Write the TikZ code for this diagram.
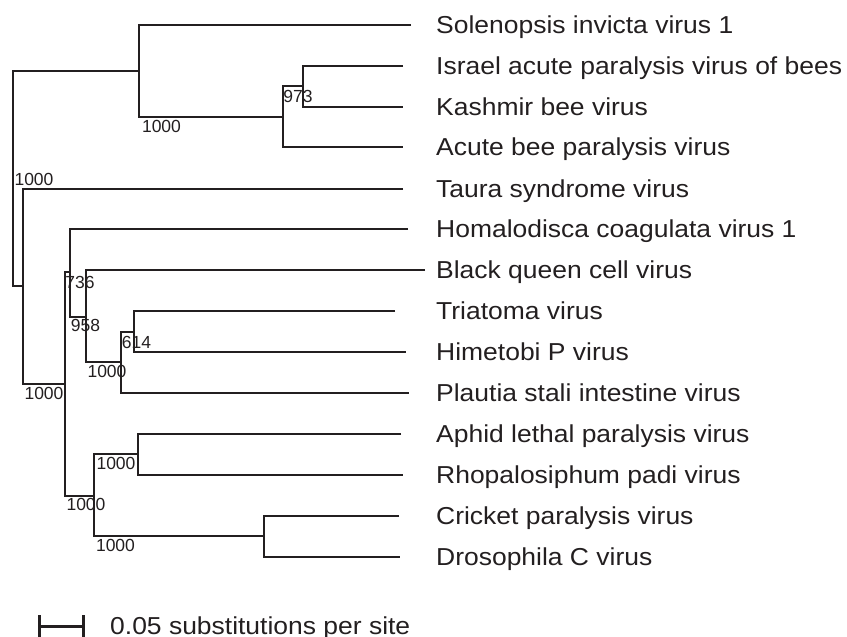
\documentclass[tikz,border=0pt]{standalone}
\usepackage{fontspec}
\setmainfont{Liberation Sans}
\newfontfamily\widefont[FakeStretch=1.08]{Liberation Sans}
\definecolor{ink}{HTML}{231F20}
\begin{document}
\begin{tikzpicture}[x=1pt,y=-1pt,
  branch/.style={draw=ink,line width=1.4pt},
  leaf/.style={anchor=base west,inner sep=0pt,text=ink,font=\widefont\fontsize{24.5}{28}\selectfont},
  boot/.style={inner sep=0pt,text=ink,font=\fontsize{17.5}{20}\selectfont},
  scalebar/.style={draw=ink,line width=3pt}]
\useasboundingbox (0,0) rectangle (847,637);
% tips
\coordinate (tSol) at (411,25);
\coordinate (tIsr) at (403,66);
\coordinate (tKas) at (403,107);
\coordinate (tAcu) at (403,147);
\coordinate (tTau) at (403,189);
\coordinate (tHom) at (408,229);
\coordinate (tBqc) at (425,270);
\coordinate (tTri) at (395,311);
\coordinate (tHim) at (406,352);
\coordinate (tPla) at (409,393);
\coordinate (tAph) at (401,434);
\coordinate (tRho) at (403,475);
\coordinate (tCri) at (399,516);
\coordinate (tDro) at (400,557);
% internal nodes
\coordinate (root) at (13,178);
\coordinate (nA) at (139,71);
\coordinate (nB) at (283,117);
\coordinate (nC) at (303,86);
\coordinate (nD) at (23,286);
\coordinate (nE) at (65,384);
\coordinate (nF) at (70,272);
\coordinate (nH) at (86,317);
\coordinate (nI) at (121,362);
\coordinate (nJ) at (134,332);
\coordinate (nK) at (94,496);
\coordinate (nL) at (138,454);
\coordinate (nM) at (264,536);
% branches
\draw[branch] (nA) -| (root) |- (nD);
\draw[branch] (tSol) -| (nA) |- (nB);
\draw[branch] (nC) -| (nB) |- (tAcu);
\draw[branch] (tIsr) -| (nC) |- (tKas);
\draw[branch] (tTau) -| (nD) |- (nE);
\draw[branch] (nF) -| (nE) |- (nK);
\draw[branch] (tHom) -| (nF) |- (nH);
\draw[branch] (tBqc) -| (nH) |- (nI);
\draw[branch] (nJ) -| (nI) |- (tPla);
\draw[branch] (tTri) -| (nJ) |- (tHim);
\draw[branch] (nL) -| (nK) |- (nM);
\draw[branch] (tAph) -| (nL) |- (tRho);
\draw[branch] (tCri) -| (nM) |- (tDro);
% leaf labels
\node[leaf] (lSol) at (436,33.5) {Solenopsis invicta virus 1};
\node[leaf] (lIsr) at (436,74.5) {Israel acute paralysis virus of bees};
\node[leaf] (lKas) at (436,115.5) {Kashmir bee virus};
\node[leaf] (lAcu) at (436,155.5) {Acute bee paralysis virus};
\node[leaf] (lTau) at (436,197.5) {Taura syndrome virus};
\node[leaf] (lHom) at (436,237.5) {Homalodisca coagulata virus 1};
\node[leaf] (lBqc) at (436,278.5) {Black queen cell virus};
\node[leaf] (lTri) at (436,319.5) {Triatoma virus};
\node[leaf] (lHim) at (436,360.5) {Himetobi P virus};
\node[leaf] (lPla) at (436,401.5) {Plautia stali intestine virus};
\node[leaf] (lAph) at (436,442.5) {Aphid lethal paralysis virus};
\node[leaf] (lRho) at (436,483.5) {Rhopalosiphum padi virus};
\node[leaf] (lCri) at (436,524.5) {Cricket paralysis virus};
\node[leaf] (lDro) at (436,565.5) {Drosophila C virus};
% bootstrap values
\node[boot] (b1) at (298,96) {973};
\node[boot] (b2) at (161.5,126) {1000};
\node[boot] (b3) at (34,179) {1000};
\node[boot] (b4) at (80,282) {736};
\node[boot] (b5) at (85.5,325) {958};
\node[boot] (b6) at (136.5,342) {614};
\node[boot] (b7) at (107,371) {1000};
\node[boot] (b8) at (44,393) {1000};
\node[boot] (b9) at (116,463) {1000};
\node[boot] (b10) at (86,504) {1000};
\node[boot] (b11) at (115.5,545) {1000};
% scale bar
\coordinate (sL) at (39.5,626);
\coordinate (sR) at (83.5,626);
\draw[scalebar] (sL) -- (sR);
\draw[scalebar] ([yshift=-11pt]sL) -- ([yshift=11pt]sL);
\draw[scalebar] ([yshift=-11pt]sR) -- ([yshift=11pt]sR);
\node[leaf] (scale) at (110,634) {0.05 substitutions per site};
\end{tikzpicture}
\end{document}
